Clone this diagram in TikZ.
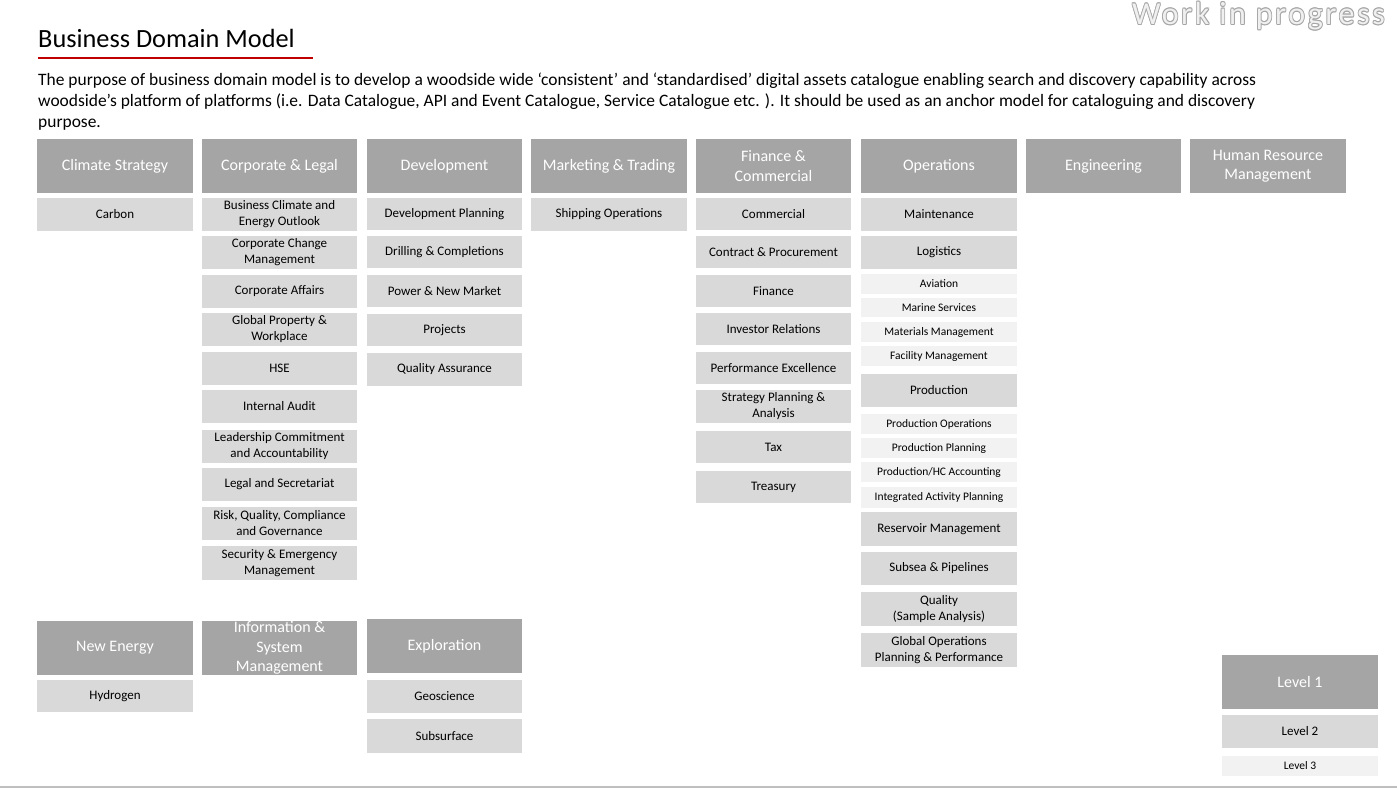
\documentclass[tikz,border=0pt]{standalone}
\usepackage{fontspec}
\setmainfont{Carlito}
\newfontfamily\wipfont[LetterSpace=8]{Carlito}
\definecolor{lone}{HTML}{A5A5A5}
\definecolor{ltwo}{HTML}{D9D9D9}
\definecolor{lthree}{HTML}{F2F2F2}
\definecolor{redline}{HTML}{C00000}
\definecolor{wipout}{HTML}{A6A6A6}
\definecolor{wipfill}{HTML}{F0F0F0}
\definecolor{footrule}{HTML}{BFBFBF}
\tikzset{
  box/.style={inner sep=0pt, outer sep=0pt, align=center},
  lvlone/.style={box, fill=lone, text=white, font=\fontsize{16}{19.5}\selectfont},
  lvltwo/.style={box, fill=ltwo, text=black, font=\fontsize{13}{16}\selectfont},
  lvlthree/.style={box, fill=lthree, text=black, font=\fontsize{11.5}{14}\selectfont},
  wiptext/.style={inner sep=0pt, anchor=base east, font=\wipfont\fontsize{32}{36}\selectfont},
}
% name, style, x1, y1, x2, y2, text
\newcommand\bx[7]{\node[#2, minimum width={(#5)-(#3)}, minimum height={(#6)-(#4)}] (#1) at ({((#3)+(#5))/2},{((#4)+(#6))/2}) {#7};}
\begin{document}
\begin{tikzpicture}[x=1pt, y=-1pt]
\useasboundingbox (0,0) rectangle (1397,788);
\fill[white] (0,0) rectangle (1397,788);

% title
\node[inner sep=0pt, anchor=base west, font=\fontsize{26.3}{30}\selectfont] (title) at (38,47.5) {Business Domain Model};
\coordinate (ulA) at (38,58);
\coordinate (ulB) at (313,58);
\draw[redline, line width=2pt] (ulA) -- (ulB);

% paragraph (anchor on the baseline of its last line)
\node[inner sep=0pt, anchor=base west, align=left, font=\fontsize{17.45}{21}\selectfont] (para) at (38,127.5)
{The purpose of business domain model is to develop a woodside wide ‘consistent’ and ‘standardised’ digital assets catalogue enabling search and discovery capability across\\
woodside’s platform of platforms (i.e. Data Catalogue, API and Event Catalogue, Service Catalogue etc. ). It should be used as an anchor model for cataloguing and discovery\\
purpose.};

% work in progress (outlined look)
\foreach \dx/\dy in {-0.8/0,0.8/0,0/-0.8,0/0.8,-0.6/-0.6,0.6/0.6,-0.6/0.6,0.6/-0.6}
  \node[wiptext, text=wipout] at ({1385+\dx},{24.5+\dy}) {Work in progress};
\node[wiptext, text=wipfill] (wip) at (1385,24.5) {Work in progress};

% Level 1 headers
\bx{cs}{lvlone}{37}{139}{193}{193}{Climate Strategy}
\bx{cl}{lvlone}{202}{139}{357}{193}{Corporate \& Legal}
\bx{dev}{lvlone}{367}{139}{522}{193}{Development}
\bx{mt}{lvlone}{531}{139}{687}{193}{Marketing \& Trading}
\bx{fc}{lvlone}{696}{139}{851}{193}{Finance \&\\Commercial}
\bx{ops}{lvlone}{861}{139}{1017}{193}{Operations}
\bx{eng}{lvlone}{1026}{139}{1181}{193}{Engineering}
\bx{hr}{lvlone}{1190}{139}{1346}{193}{Human Resource\\Management}

% Climate Strategy
\bx{carbon}{lvltwo}{37}{198}{193}{231}{Carbon}

% Corporate & Legal
\bx{bceo}{lvltwo}{202}{198}{357}{231}{Business Climate and\\Energy Outlook}
\bx{ccm}{lvltwo}{202}{236}{357}{269}{Corporate Change\\Management}
\bx{ca}{lvltwo}{202}{275}{357}{308}{Corporate Affairs}
\bx{gpw}{lvltwo}{202}{313}{357}{346}{Global Property \&\\Workplace}
\bx{hse}{lvltwo}{202}{352}{357}{385}{HSE}
\bx{ia}{lvltwo}{202}{390}{357}{423}{Internal Audit}
\bx{lca}{lvltwo}{202}{430}{357}{463}{Leadership Commitment\\and Accountability}
\bx{ls}{lvltwo}{202}{468}{357}{501}{Legal and Secretariat}
\bx{rqcg}{lvltwo}{202}{507}{357}{540}{Risk, Quality, Compliance\\and Governance}
\bx{sem}{lvltwo}{202}{546}{357}{580}{Security \& Emergency\\Management}

% Development
\bx{dp}{lvltwo}{367}{198}{522}{230}{Development Planning}
\bx{dc}{lvltwo}{367}{236}{522}{268}{Drilling \& Completions}
\bx{pnm}{lvltwo}{367}{275}{522}{307}{Power \& New Market}
\bx{proj}{lvltwo}{367}{314}{522}{346}{Projects}
\bx{qa}{lvltwo}{367}{353}{522}{386}{Quality Assurance}

% Marketing & Trading
\bx{so}{lvltwo}{531}{198}{687}{231}{Shipping Operations}

% Finance & Commercial
\bx{comm}{lvltwo}{696}{198}{851}{230}{Commercial}
\bx{cp}{lvltwo}{696}{236}{851}{268}{Contract \& Procurement}
\bx{fin}{lvltwo}{696}{275}{851}{307}{Finance}
\bx{ir}{lvltwo}{696}{313}{851}{345}{Investor Relations}
\bx{pe}{lvltwo}{696}{352}{851}{384}{Performance Excellence}
\bx{spa}{lvltwo}{696}{390}{851}{423}{Strategy Planning \&\\Analysis}
\bx{tax}{lvltwo}{696}{431}{851}{463}{Tax}
\bx{tre}{lvltwo}{696}{471}{851}{503}{Treasury}

% Operations
\bx{mnt}{lvltwo}{861}{198}{1017}{231}{Maintenance}
\bx{log}{lvltwo}{861}{236}{1017}{269}{Logistics}
\bx{avi}{lvlthree}{861}{274}{1017}{294}{Aviation}
\bx{mar}{lvlthree}{861}{298}{1017}{317}{Marine Services}
\bx{mat}{lvlthree}{861}{322}{1017}{342}{Materials Management}
\bx{fac}{lvlthree}{861}{346}{1017}{366}{Facility Management}
\bx{prod}{lvltwo}{861}{374}{1017}{407}{Production}
\bx{pops}{lvlthree}{861}{414}{1017}{434}{Production Operations}
\bx{ppl}{lvlthree}{861}{438}{1017}{458}{Production Planning}
\bx{phc}{lvlthree}{861}{462}{1017}{482}{Production/HC Accounting}
\bx{iap}{lvlthree}{861}{487}{1017}{508}{Integrated Activity Planning}
\bx{rm}{lvltwo}{861}{512}{1017}{546}{Reservoir Management}
\bx{sp}{lvltwo}{861}{552}{1017}{585}{Subsea \& Pipelines}
\bx{qsa}{lvltwo}{861}{592}{1017}{626}{Quality\\(Sample Analysis)}
\bx{gopp}{lvltwo}{861}{633}{1017}{667}{Global Operations\\Planning \& Performance}

% bottom row
\bx{ne}{lvlone}{37}{621}{193}{675}{New Energy}
\bx{hyd}{lvltwo}{37}{680}{193}{712}{Hydrogen}
\bx{ism}{lvlone}{202}{621}{357}{675}{Information \&\\System\\Management}
\bx{expl}{lvlone}{367}{619}{522}{673}{Exploration}
\bx{geo}{lvltwo}{367}{680}{522}{713}{Geoscience}
\bx{subs}{lvltwo}{367}{719}{522}{753}{Subsurface}

% legend
\bx{lg1}{lvlone}{1222}{655}{1378}{709}{Level 1}
\bx{lg2}{lvltwo}{1222}{715}{1378}{748}{Level 2}
\bx{lg3}{lvlthree}{1222}{756}{1378}{776}{Level 3}

% footer rule
\coordinate (frA) at (0,787);
\coordinate (frB) at (1397,787);
\draw[footrule, line width=1.5pt] (frA) -- (frB);
\end{tikzpicture}
\end{document}
